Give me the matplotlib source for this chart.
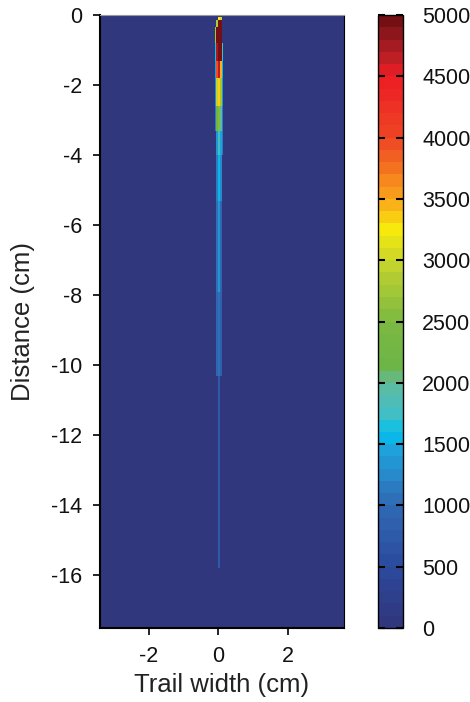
import numpy as np
from matplotlib import pyplot as plt
from matplotlib.colors import ListedColormap, BoundaryNorm, LinearSegmentedColormap

# trail grid: column edges across the trail (cm) and row edges down the trail (cm)
trail_x_edges = [-0.11, -0.06, -0.01, 0.04, 0.09, 0.14]
trail_depth_edges = [0.05, 0.15, 0.35, 0.8, 1.3, 1.8, 2.6, 3.3, 4.0, 5.3, 7.9, 10.3, 15.8]
trail_values = [
    [0, 0, 3200, 3000, 0],
    [0, 2800, 5000, 5000, 0],
    [2700, 5000, 5000, 5000, 0],
    [1600, 4700, 5000, 4900, 1700],
    [1400, 3900, 4600, 3400, 1500],
    [1200, 2900, 3300, 2700, 1300],
    [1100, 2100, 2500, 1900, 1100],
    [0, 1300, 1700, 1400, 1100],
    [0, 1100, 1500, 1200, 0],
    [0, 1000, 1300, 900, 0],
    [0, 900, 1000, 800, 0],
    [0, 0, 700, 0, 0],
]
x_limits = [-3.4, 3.6]
depth_limit = 17.5
cbar_ticks = [0, 500, 1000, 1500, 2000, 2500, 3000, 3500, 4000, 4500, 5000]

anchor_vals = [0, 500, 1000, 1450, 1600, 1700, 2000, 2100, 2500, 3000, 3250, 3500, 4000, 4500, 4700, 5000]
anchor_cols = ['#31357a', '#2b4a9e', '#2f6ab4', '#1fa2dc', '#00c0f0', '#3cbfcc', '#63bb9c',
               '#6bb447', '#7cb942', '#c9d52c', '#f7ea0c', '#f9a41b', '#ee4624', '#ed1c24',
               '#b51f25', '#6a0e12']

plt.rcParams['font.family'] = ['Liberation Sans', 'DejaVu Sans']
plt.rcParams['axes.unicode_minus'] = False

levels = np.arange(0, 5001, 100)
base = LinearSegmentedColormap.from_list(
    'rb', list(zip([v / 5000 for v in anchor_vals], anchor_cols)))
cmap = ListedColormap(base((levels[:-1] + 50) / 5000))
norm = BoundaryNorm(levels, cmap.N)

# pad the trail into the full field
x_edges = [x_limits[0]] + trail_x_edges + [x_limits[1]]
y_edges = [0.0] + trail_depth_edges + [depth_limit]
z = np.zeros((len(y_edges) - 1, len(x_edges) - 1))
z[1:-1, 1:-1] = np.array(trail_values)
z = np.clip(z, 0, 4999)

fig = plt.figure(figsize=(4.7, 7.02), dpi=100)
ax = fig.add_axes([0.2128, 0.1054, 0.519, 0.8732])
mesh = ax.pcolormesh(x_edges, -np.array(y_edges), z, cmap=cmap, norm=norm, shading='flat')
ax.set_xlim(x_limits)
ax.set_ylim(-depth_limit, 0)
ax.set_xticks([-2, 0, 2])
ax.set_yticks(range(-16, 1, 2))
ax.tick_params(direction='out', length=5, width=1.2, labelsize=15.5, pad=8,
               top=False, right=False, labelcolor='#111111')
ax.set_xlabel('Trail width (cm)', fontsize=18.5, labelpad=4, color='#222222')
ax.set_ylabel('Distance (cm)', fontsize=18.5, labelpad=11, color='#222222')
for side in ['left', 'bottom']:
    ax.spines[side].set_linewidth(1.5)
ax.spines['top'].set_color('#999999')
ax.spines['top'].set_linewidth(0.8)
ax.spines['right'].set_linewidth(0.8)

cax = fig.add_axes([0.804, 0.1054, 0.053, 0.8732])
cb = fig.colorbar(mesh, cax=cax, ticks=cbar_ticks)
cb.minorticks_off()
cb.ax.tick_params(direction='in', length=5, width=1.5, labelsize=15.5, pad=14,
                  left=True, right=True, labelcolor='#111111')
cb.outline.set_linewidth(1.0)

fig.savefig('out.png', dpi=100)
